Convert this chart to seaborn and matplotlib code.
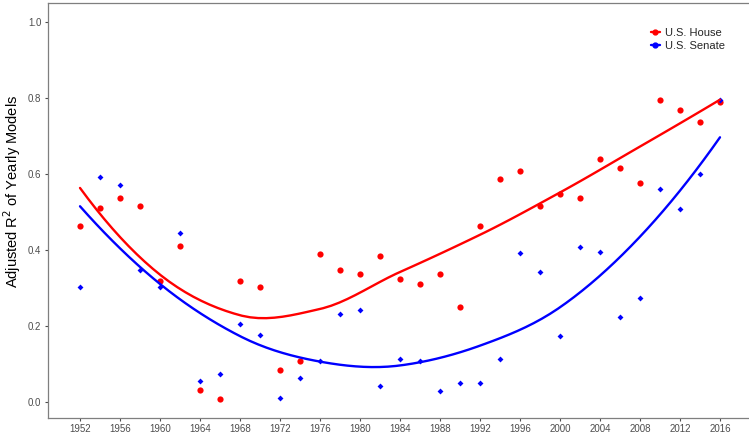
import numpy as np
import pandas as pd
import matplotlib
matplotlib.use("Agg")
import matplotlib.pyplot as plt
from matplotlib.lines import Line2D
import seaborn as sns

years = list(range(1952, 2017, 2))
house = [0.463, 0.510, 0.535, 0.515, 0.318, 0.411, 0.030, 0.008, 0.318, 0.303,
         0.084, 0.108, 0.389, 0.346, 0.335, 0.383, 0.323, 0.310, 0.335, 0.250,
         0.462, 0.586, 0.607, 0.516, 0.546, 0.536, 0.638, 0.614, 0.575, 0.795,
         0.767, 0.737, 0.788]
senate = [0.301, 0.592, 0.571, 0.347, 0.301, 0.444, 0.055, 0.072, 0.205, 0.176,
          0.009, 0.062, 0.106, 0.230, 0.241, 0.041, 0.112, 0.108, 0.027, 0.050,
          0.050, 0.112, 0.391, 0.342, 0.172, 0.407, 0.395, 0.222, 0.274, 0.560,
          0.507, 0.599, 0.794]
chambers = ["U.S. House", "U.S. Senate"]
colors = {"U.S. House": "#FF0000", "U.S. Senate": "#0000FF"}


def loess_fit(x, y, x0, span=0.75):
    # local quadratic fit with tricube weights, returns value and slope at x0
    q = int(np.floor(len(x) * span))
    d = np.abs(x - x0)
    h = np.sort(d)[q - 1]
    w = np.clip(1 - (d / h) ** 3, 0, None) ** 3
    X = np.vstack([np.ones_like(x), x - x0, (x - x0) ** 2]).T
    W = np.diag(w)
    beta = np.linalg.solve(X.T @ W @ X, X.T @ W @ y)
    return beta[0], beta[1]


def loess(x, y, grid):
    # like R's surface="interpolate": fit at a few vertices, hermite in between
    x = np.asarray(x, float)
    y = np.asarray(y, float)
    verts = np.linspace(x.min(), x.max(), 9)
    fits = np.array([loess_fit(x, y, v) for v in verts])
    out = []
    for g in grid:
        i = min(np.searchsorted(verts, g, side="right") - 1, len(verts) - 2)
        x0, x1 = verts[i], verts[i + 1]
        hh = x1 - x0
        t = (g - x0) / hh
        h00 = 2 * t**3 - 3 * t**2 + 1
        h10 = t**3 - 2 * t**2 + t
        h01 = -2 * t**3 + 3 * t**2
        h11 = t**3 - t**2
        out.append(h00 * fits[i, 0] + h10 * hh * fits[i, 1]
                   + h01 * fits[i + 1, 0] + h11 * hh * fits[i + 1, 1])
    return np.array(out)


pts = pd.DataFrame({
    "year": years * 2,
    "r2": house + senate,
    "chamber": [chambers[0]] * len(years) + [chambers[1]] * len(years),
})
grid = np.linspace(min(years), max(years), 80)
smooth = pd.concat([
    pd.DataFrame({"year": grid, "r2": loess(years, house, grid), "chamber": chambers[0]}),
    pd.DataFrame({"year": grid, "r2": loess(years, senate, grid), "chamber": chambers[1]}),
])

sns.set_style("ticks")
plt.rcParams["font.family"] = ["Liberation Sans", "DejaVu Sans"]

fig = plt.figure(figsize=(7.49, 4.33), dpi=100)
ax = fig.add_axes([48 / 749, (433 - 417.7) / 433, (752 - 48) / 749, (417.7 - 2.7) / 433])

sns.lineplot(data=smooth, x="year", y="r2", hue="chamber", palette=colors,
             lw=1.7, ax=ax, legend=False)
sns.scatterplot(data=pts[pts.chamber == chambers[0]], x="year", y="r2",
                color=colors[chambers[0]], s=20, marker="o", linewidth=0, ax=ax)
sns.scatterplot(data=pts[pts.chamber == chambers[1]], x="year", y="r2",
                color=colors[chambers[1]], s=9, marker="D", linewidth=0, ax=ax)

ax.set_xlim(1948.8, 2019.2)
ax.set_ylim(-0.042, 1.05)
ax.set_xticks(range(1952, 2017, 4))
ax.set_yticks(np.arange(0, 1.01, 0.2))
ax.set_yticklabels([f"{v:.1f}" for v in np.arange(0, 1.01, 0.2)])
ax.set_xlabel("")
ax.set_ylabel("Adjusted R$^2$ of Yearly Models", fontsize=10.5, color="black")
ax.yaxis.set_label_coords(-0.036, 0.546)
ax.tick_params(colors="#4d4d4d", labelsize=7, length=2.2, width=0.8, pad=2.5)
for s in ax.spines.values():
    s.set_color("#7f7f7f")
    s.set_linewidth(0.9)

handles = [Line2D([], [], color=colors[c], lw=1.7, marker="o", markersize=3.5) for c in chambers]
ax.legend(handles, chambers, loc="upper left", bbox_to_anchor=(651 / 749, 1 - 28 / 433),
          bbox_transform=fig.transFigure, borderaxespad=0, borderpad=0,
          frameon=False, fontsize=8, handlelength=0.8, handletextpad=0.45,
          labelspacing=0.25)

fig.savefig("out.png", dpi=100)
